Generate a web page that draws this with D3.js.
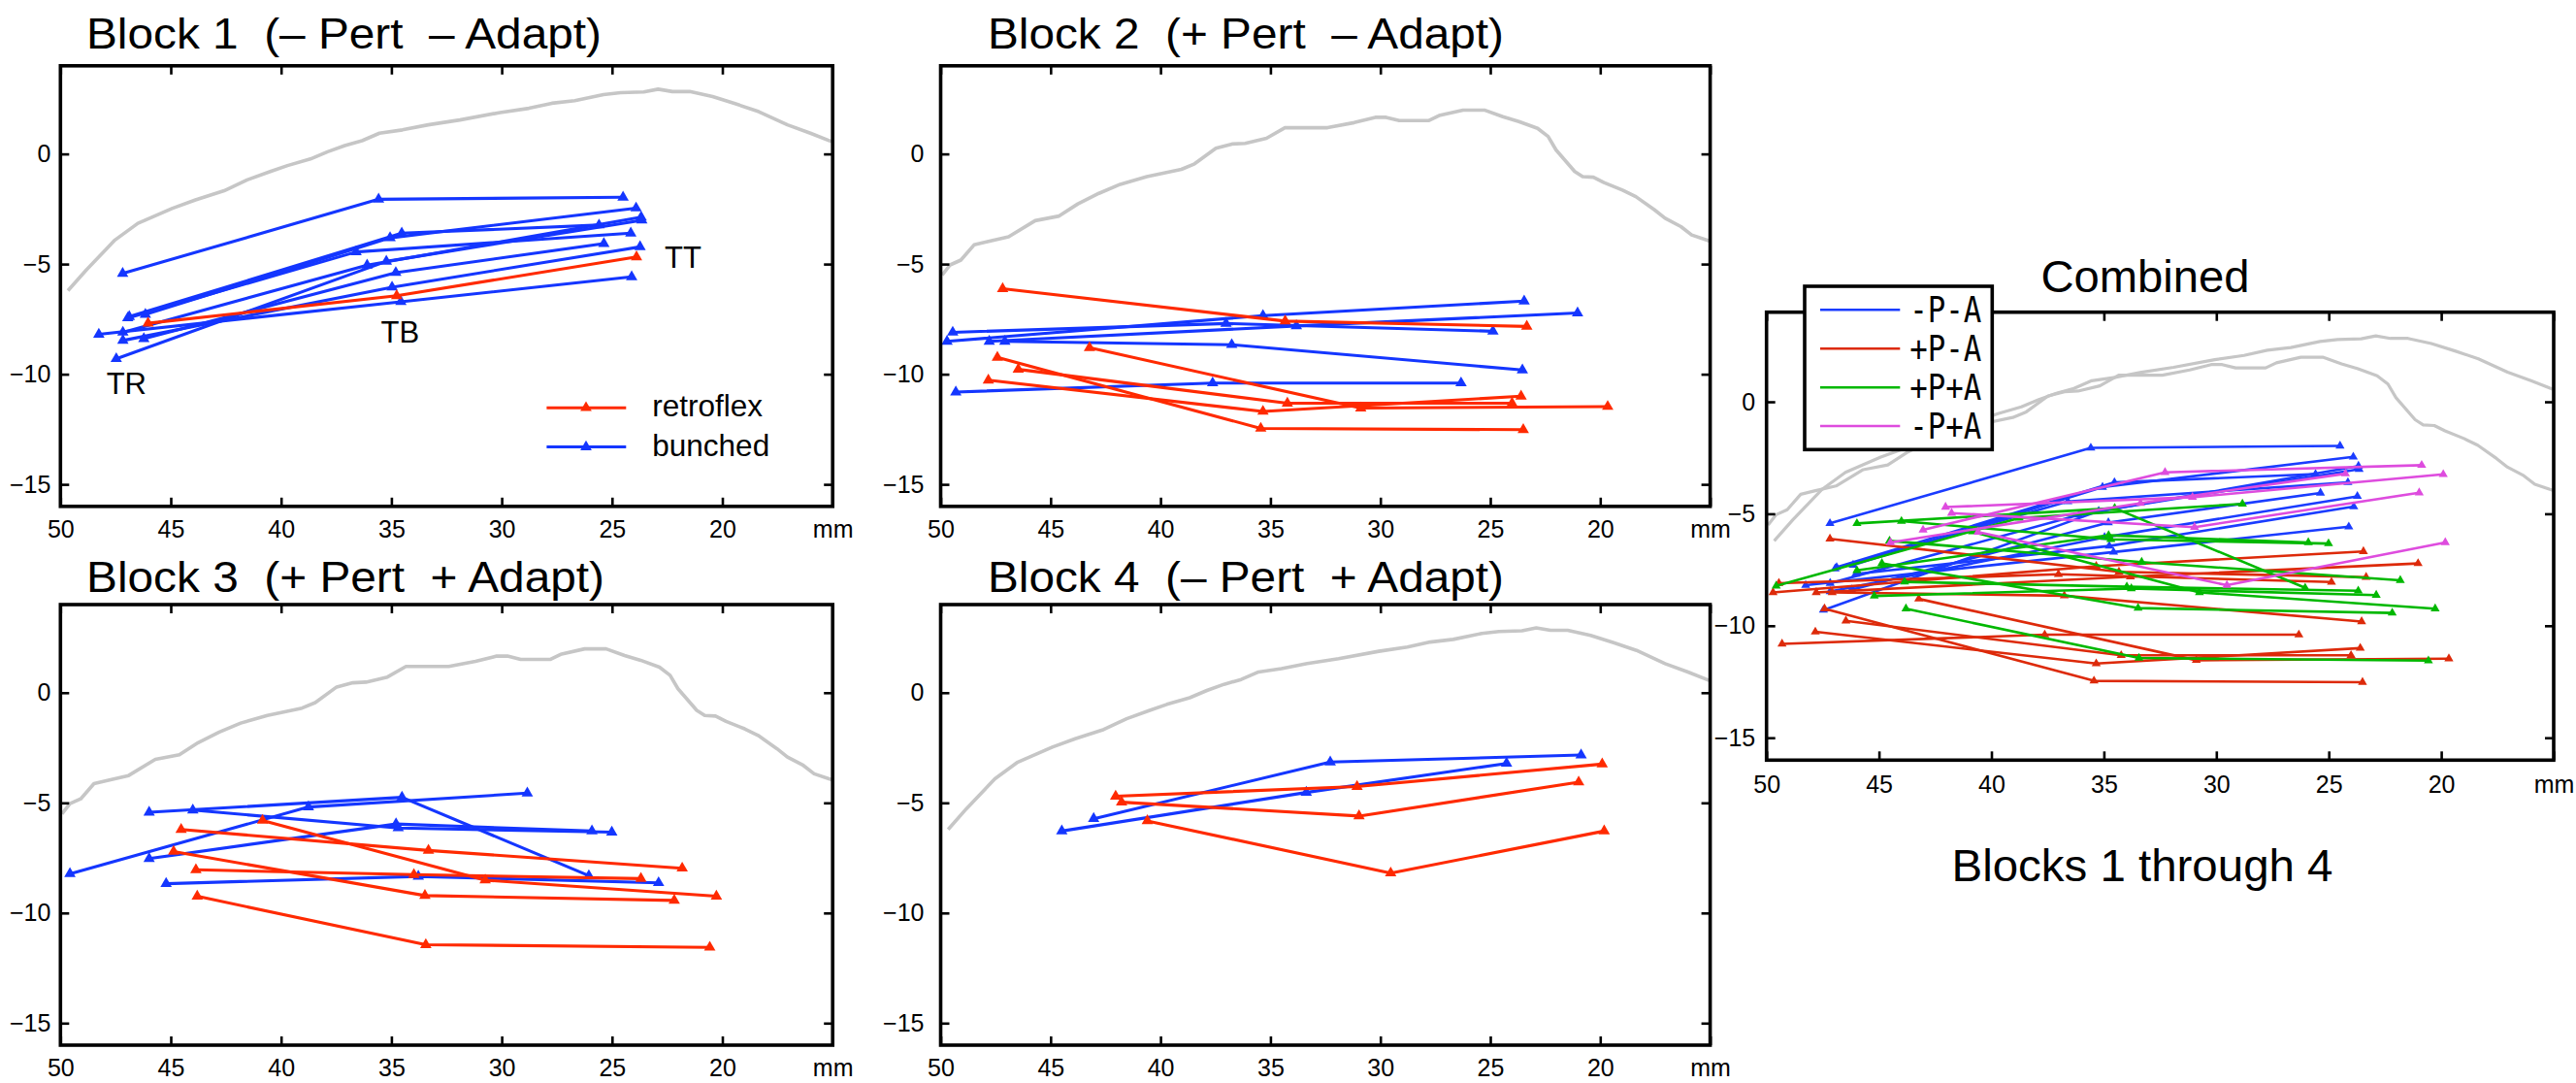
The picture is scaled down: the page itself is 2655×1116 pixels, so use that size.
<!DOCTYPE html>
<html><head><meta charset="utf-8">
<script src="https://cdn.jsdelivr.net/npm/d3@7"></script>
<style>
body{margin:0;background:#fff;}
svg{display:block;}
text{font-family:"Liberation Sans",Arial,Helvetica,sans-serif;fill:#000;}
</style>
</head><body>
<svg id="c" width="2655" height="1116"></svg>
<script>
// ---------------- DATA ----------------
const panelTitles = ["Block 1  (\u2013 Pert  \u2013 Adapt)", "Block 2  (+ Pert  \u2013 Adapt)",
                     "Block 3  (+ Pert  + Adapt)", "Block 4  (\u2013 Pert  + Adapt)"];
const combinedTitle = "Combined";
const combinedCaption = "Blocks 1 through 4";
const xDomain = [50, 15];
const yDomain = [4, -16];
const xTickValues = [50, 45, 40, 35, 30, 25, 20, 15];
const xTickLabels = ["50", "45", "40", "35", "30", "25", "20", "mm"];
const yTickValues = [0, -5, -10, -15];
const legendLabels = ["retroflex", "bunched"];
const combinedLegendLabels = ["-P-A", "+P-A", "+P+A", "-P+A"];
const pointLabels = ["TR", "TB", "TT"];

// palate traces [mm, mm]
const palateA = [[49.66,-6.21],[48.83,-5.27],[47.53,-3.91],[46.49,-3.15],[44.92,-2.47],[43.88,-2.09],[42.58,-1.67],
  [41.54,-1.18],[40.49,-0.80],[39.71,-0.53],[38.67,-0.23],[37.89,0.10],[37.11,0.38],[36.33,0.60],[35.54,0.94],
  [34.50,1.09],[33.33,1.32],[31.90,1.54],[30.07,1.88],[28.77,2.07],[27.73,2.30],[26.69,2.42],[25.39,2.69],
  [24.61,2.78],[23.56,2.81],[22.91,2.94],[22.26,2.83],[21.48,2.83],[20.44,2.60],[19.39,2.27],[18.35,1.92],
  [17.05,1.32],[16.01,0.94],[15.05,0.56]];
const palateB = [[49.93,-5.50],[49.57,-5.04],[49.08,-4.82],[48.48,-4.13],[47.87,-3.98],[46.91,-3.76],[45.70,-3.03],
  [44.61,-2.82],[43.76,-2.27],[42.80,-1.79],[41.83,-1.38],[40.62,-1.03],[39.05,-0.70],[38.45,-0.45],[37.48,0.26],
  [36.75,0.45],[36.15,0.48],[35.18,0.71],[34.34,1.19],[32.40,1.19],[31.19,1.42],[30.23,1.66],[29.74,1.66],
  [29.14,1.51],[27.81,1.51],[27.33,1.74],[26.24,1.99],[25.27,1.99],[24.43,1.69],[23.70,1.47],[22.85,1.16],
  [22.37,0.79],[22.01,0.18],[21.16,-0.80],[20.80,-1.03],[20.31,-1.06],[19.83,-1.30],[18.99,-1.64],[18.38,-1.94],
  [17.53,-2.54],[17.05,-2.92],[16.33,-3.30],[15.84,-3.68],[15.04,-3.95]];

// each trace: TR, TB, TT  [mm, mm]
const block1Retroflex = [
  [[46.03,-7.69],[34.76,-6.44],[23.89,-4.68]]
];
const block1Bunched = [
  [[47.18,-5.43],[35.58,-2.06],[24.50,-1.97]],
  [[46.88,-7.39],[34.53,-3.60],[25.59,-3.23]],
  [[46.15,-7.29],[35.06,-3.81],[23.91,-2.46]],
  [[47.17,-8.10],[36.10,-5.05],[23.68,-2.87]],
  [[47.47,-9.30],[35.23,-4.88],[23.65,-3.01]],
  [[46.22,-8.39],[34.80,-5.39],[25.37,-4.07]],
  [[47.17,-8.47],[34.97,-6.05],[23.73,-4.22]],
  [[48.26,-8.19],[34.57,-6.71],[24.11,-5.58]],
  [[46.95,-7.45],[36.60,-4.45],[24.15,-3.60]]
];
const block2Retroflex = [
  [[47.18,-6.12],[34.33,-7.59],[23.34,-7.83]],
  [[43.23,-8.80],[30.89,-11.54],[19.66,-11.47]],
  [[47.42,-9.24],[35.44,-12.46],[23.50,-12.52]],
  [[46.47,-9.78],[34.23,-11.32],[24.01,-11.32]],
  [[47.83,-10.27],[35.34,-11.69],[23.60,-11.00]]
];
const block2Bunched = [
  [[49.45,-8.10],[37.02,-7.70],[24.88,-8.05]],
  [[49.71,-8.51],[35.34,-7.34],[23.46,-6.68]],
  [[47.79,-8.51],[33.82,-7.81],[21.03,-7.22]],
  [[47.08,-8.51],[36.76,-8.66],[23.54,-9.81]],
  [[49.31,-10.81],[37.63,-10.40],[26.33,-10.40]]
];
const block3Retroflex = [
  [[44.53,-6.21],[33.32,-7.16],[21.82,-7.97]],
  [[44.87,-7.21],[33.48,-9.21],[22.18,-9.43]],
  [[43.86,-8.04],[33.98,-8.26],[23.69,-8.44]],
  [[43.80,-9.24],[33.44,-11.44],[20.57,-11.56]],
  [[40.84,-5.80],[30.75,-8.51],[20.27,-9.24]]
];
const block3Bunched = [
  [[45.98,-5.43],[34.52,-4.75],[26.05,-8.31]],
  [[49.57,-8.22],[38.76,-5.19],[28.84,-4.56]],
  [[44.00,-5.33],[34.69,-6.14],[25.01,-6.33]],
  [[45.98,-7.53],[34.79,-5.96],[25.91,-6.28]],
  [[45.21,-8.67],[33.78,-8.34],[22.89,-8.63]]
];
const block4Retroflex = [
  [[42.04,-4.70],[31.06,-4.26],[19.91,-3.24]],
  [[41.77,-4.97],[30.97,-5.60],[20.98,-4.06]],
  [[40.60,-5.82],[29.53,-8.19],[19.82,-6.28]]
];
const block4Bunched = [
  [[43.04,-5.72],[32.28,-3.15],[20.87,-2.83]],
  [[44.49,-6.28],[33.37,-4.53],[24.26,-3.21]]
];

// ---------------- STYLE / LAYOUT ----------------
const RED = "#ff2a00", BLUE = "#1436ff";
const CBLUE = "#1a3cff", CRED = "#dd2a0a", CGREEN = "#00b800", CMAG = "#de4cde";
const GRAY = "#c6c6c6";
const svg = d3.select("#c");
const symTri = (s) => d3.symbol(d3.symbolTriangle, s)();

function drawPanel(cfg) {
  const x = d3.scaleLinear().domain(xDomain).range([cfg.l, cfg.r]);
  const y = d3.scaleLinear().domain(yDomain).range([cfg.t, cfg.b]);
  const g = svg.append("g");
  const cid = "clip" + cfg.id;
  svg.append("clipPath").attr("id", cid).append("rect")
    .attr("x", cfg.l).attr("y", cfg.t).attr("width", cfg.r - cfg.l).attr("height", cfg.b - cfg.t);
  const plot = g.append("g").attr("clip-path", `url(#${cid})`);
  const line = d3.line().x(d => x(d[0])).y(d => y(d[1]));
  cfg.palates.forEach(p => plot.append("path").attr("d", line(p)).attr("fill", "none")
    .attr("stroke", GRAY).attr("stroke-width", cfg.palW).attr("stroke-linejoin", "round"));
  cfg.series.forEach(s => {
    s.data.forEach(tr => {
      plot.append("path").attr("d", line(tr)).attr("fill", "none").attr("stroke", s.color)
        .attr("stroke-width", cfg.lineW).attr("stroke-linejoin", "round");
      tr.forEach(pt => plot.append("path").attr("d", symTri(cfg.markS))
        .attr("transform", `translate(${x(pt[0])},${y(pt[1])})`).attr("fill", s.color));
    });
  });
  const styleAxis = (sel, fs) => {
    sel.select(".domain").remove();
    sel.selectAll(".tick line").attr("stroke", "#000").attr("stroke-width", 2.6);
    sel.selectAll(".tick text").attr("font-size", fs).attr("fill", "#000")
      .attr("font-family", '"Liberation Sans",Arial,sans-serif');
  };
  const fmt = (d) => xTickLabels[xTickValues.indexOf(d)];
  g.append("g").attr("transform", `translate(0,${cfg.b})`)
    .call(d3.axisBottom(x).tickValues(xTickValues).tickFormat(fmt).tickSize(-9).tickPadding(cfg.xPad))
    .call(s => styleAxis(s, 25));
  g.append("g").attr("transform", `translate(0,${cfg.t})`)
    .call(d3.axisTop(x).tickValues(xTickValues).tickFormat("").tickSize(-9))
    .call(s => styleAxis(s, 25));
  g.append("g").attr("transform", `translate(${cfg.l},0)`)
    .call(d3.axisLeft(y).tickValues(yTickValues).tickFormat(d3.format("d")).tickSize(-9).tickPadding(cfg.yPad))
    .call(s => styleAxis(s, 25));
  g.append("g").attr("transform", `translate(${cfg.r},0)`)
    .call(d3.axisRight(y).tickValues(yTickValues).tickFormat("").tickSize(-9))
    .call(s => styleAxis(s, 25));
  g.append("rect").attr("x", cfg.l).attr("y", cfg.t).attr("width", cfg.r - cfg.l).attr("height", cfg.b - cfg.t)
    .attr("fill", "none").attr("stroke", "#000").attr("stroke-width", 3.6);
  if (cfg.title) {
    g.append("text").attr("x", cfg.titleX).attr("y", cfg.titleY).attr("font-size", 45)
      .attr("textLength", cfg.titleW).attr("lengthAdjust", "spacingAndGlyphs")
      .style("white-space", "pre").text(cfg.title);
  }
  return {x, y, g};
}

// Block 1
const p1 = drawPanel({id: 1, l: 62.3, r: 858.2, t: 67.8, b: 521.8, palates: [palateA], palW: 3.6,
  lineW: 3.1, markS: 60, xPad: 14.5, yPad: 10, title: panelTitles[0], titleX: 89, titleY: 50, titleW: 531,
  series: [{data: block1Bunched, color: BLUE}, {data: block1Retroflex, color: RED}]});
// point labels
[[109.7, 406.4], [392.6, 353], [685, 275.5]].forEach((p, i) =>
  p1.g.append("text").attr("x", p[0]).attr("y", p[1]).attr("font-size", 31).text(pointLabels[i]));
// legend
[[RED, 420.2, 429.3], [BLUE, 460.5, 469.5]].forEach((e, i) => {
  p1.g.append("line").attr("x1", 563.4).attr("x2", 645.3).attr("y1", e[1]).attr("y2", e[1])
    .attr("stroke", e[0]).attr("stroke-width", 3.1);
  p1.g.append("path").attr("d", symTri(60)).attr("transform", `translate(604,${e[1]})`).attr("fill", e[0]);
  p1.g.append("text").attr("x", 672.3).attr("y", e[2]).attr("font-size", 31.5).text(legendLabels[i]);
});

// Block 2
drawPanel({id: 2, l: 969.5, r: 1762.6, t: 67.8, b: 521.8, palates: [palateB], palW: 3.6,
  lineW: 3.1, markS: 60, xPad: 14.5, yPad: 17, title: panelTitles[1], titleX: 1018, titleY: 50, titleW: 532,
  series: [{data: block2Bunched, color: BLUE}, {data: block2Retroflex, color: RED}]});
// Block 3
drawPanel({id: 3, l: 62.3, r: 858.2, t: 623, b: 1077, palates: [palateB], palW: 3.6,
  lineW: 3.1, markS: 60, xPad: 14.5, yPad: 10, title: panelTitles[2], titleX: 89, titleY: 609.8, titleW: 534,
  series: [{data: block3Bunched, color: BLUE}, {data: block3Retroflex, color: RED}]});
// Block 4
drawPanel({id: 4, l: 969.5, r: 1762.6, t: 623, b: 1077, palates: [palateA], palW: 3.6,
  lineW: 3.1, markS: 60, xPad: 14.5, yPad: 17, title: panelTitles[3], titleX: 1018, titleY: 609.8, titleW: 532,
  series: [{data: block4Bunched, color: BLUE}, {data: block4Retroflex, color: RED}]});

// Combined
const pc = drawPanel({id: 5, l: 1820.7, r: 2632, t: 321.7, b: 783.3, palates: [palateA, palateB], palW: 3.2,
  lineW: 2.6, markS: 38, xPad: 16, yPad: 11.5,
  series: [
    {data: block1Bunched.concat(block1Retroflex), color: CBLUE},
    {data: block2Bunched.concat(block2Retroflex), color: CRED},
    {data: block3Bunched.concat(block3Retroflex), color: CGREEN},
    {data: block4Bunched.concat(block4Retroflex), color: CMAG}
  ]});
pc.g.append("text").attr("x", 2211).attr("y", 301).attr("font-size", 46).attr("text-anchor", "middle")
  .attr("textLength", 215).attr("lengthAdjust", "spacingAndGlyphs").text(combinedTitle);
pc.g.append("text").attr("x", 2208).attr("y", 908).attr("font-size", 47).attr("text-anchor", "middle")
  .attr("textLength", 393).attr("lengthAdjust", "spacingAndGlyphs").text(combinedCaption);
// combined legend
const lg = pc.g.append("g");
lg.append("rect").attr("x", 1860).attr("y", 295).attr("width", 193.3).attr("height", 168.3)
  .attr("fill", "#fff").attr("stroke", "#000").attr("stroke-width", 3.6);
const lgColors = [CBLUE, CRED, CGREEN, CMAG];
[319.3, 359.3, 399.3, 439].forEach((yy, i) => {
  lg.append("line").attr("x1", 1876).attr("x2", 1958.3).attr("y1", yy).attr("y2", yy)
    .attr("stroke", lgColors[i]).attr("stroke-width", 2.4);
  lg.append("text").attr("x", 1968.3).attr("y", yy + 12.5).attr("font-size", 37)
    .style("font-family", '"DejaVu Sans Mono",monospace')
    .attr("textLength", 74).attr("lengthAdjust", "spacingAndGlyphs").text(combinedLegendLabels[i]);
});
</script>
</body></html>
